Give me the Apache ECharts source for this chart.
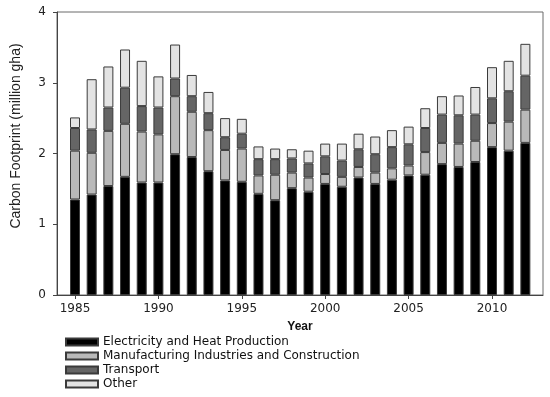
<!DOCTYPE html>
<html>
<head>
<meta charset="utf-8">
<script src="https://cdn.jsdelivr.net/npm/echarts@6/dist/echarts.min.js"></script>
<style>html,body{margin:0;padding:0;background:#fff}#c{width:550px;height:397px}</style>
</head>
<body>
<div id="c"></div>
<script>
var years = [1985,1986,1987,1988,1989,1990,1991,1992,1993,1994,1995,1996,1997,1998,1999,2000,2001,2002,2003,2004,2005,2006,2007,2008,2009,2010,2011,2012];
var electricity = [1.35,1.42,1.54,1.67,1.59,1.59,1.99,1.95,1.75,1.62,1.60,1.43,1.34,1.51,1.46,1.57,1.53,1.66,1.57,1.63,1.69,1.70,1.85,1.81,1.88,2.09,2.04,2.15];
var manufacturing = [0.69,0.59,0.78,0.75,0.72,0.68,0.82,0.64,0.58,0.43,0.47,0.26,0.36,0.22,0.20,0.14,0.14,0.15,0.16,0.16,0.14,0.32,0.30,0.33,0.30,0.34,0.41,0.47];
var transport = [0.32,0.33,0.33,0.51,0.36,0.38,0.25,0.22,0.24,0.18,0.21,0.23,0.22,0.20,0.20,0.25,0.23,0.25,0.26,0.30,0.30,0.34,0.40,0.40,0.37,0.35,0.43,0.48];
var other = [0.15,0.71,0.58,0.54,0.64,0.44,0.48,0.30,0.30,0.27,0.21,0.18,0.15,0.13,0.18,0.18,0.24,0.22,0.25,0.24,0.25,0.28,0.26,0.28,0.39,0.44,0.43,0.45];
var yearTicks = [1985,1990,1995,2000,2005,2010];
var seriesNames = ['Electricity and Heat Production','Manufacturing Industries and Construction','Transport','Other'];
var seriesColors = ['#000000','#b9b9b9','#656565','#e3e3e3'];
var seriesData = [electricity, manufacturing, transport, other];

var chart = echarts.init(document.getElementById('c'));
chart.setOption({
  animation: false,
  backgroundColor: '#fff',
  textStyle: {fontFamily: 'Liberation Sans, Arial, sans-serif'},
  grid: [
    {left: 57, right: 7, top: 12, bottom: 102, show: true, borderColor: '#6a6a6a', borderWidth: 1},
    {left: 66.66, width: 467.04, top: 12, bottom: 102}
  ],
  legend: {
    orient: 'vertical', left: 65, top: 335.5, height: 90, padding: 0,
    itemWidth: 32, itemHeight: 7, itemGap: 1,
    icon: 'rect',
    textStyle: {fontSize: 12, lineHeight: 13, color: '#111', fontFamily: 'DejaVu Sans, sans-serif'},
    data: seriesNames
  },
  graphic: [{
    type: 'text', x: 16.5, y: 136, rotation: Math.PI / 2,
    style: {text: 'Carbon Footprint (million gha)', fontSize: 14, fill: '#222',
            fontFamily: 'Liberation Sans, Arial, sans-serif', textAlign: 'center', textVerticalAlign: 'middle'}
  }],
  xAxis: [{
    gridIndex: 0, type: 'value', min: 1983.921, max: 2013.058,
    name: 'Year', nameLocation: 'middle', nameGap: 26,
    nameTextStyle: {fontWeight: 'bold', fontSize: 12, color: '#111'},
    axisLine: {show: true, lineStyle: {color: '#444'}},
    axisTick: {show: true, length: 4, customValues: yearTicks, lineStyle: {color: '#444'}},
    axisLabel: {customValues: yearTicks, fontSize: 12, color: '#222', margin: 8,
                fontFamily: 'DejaVu Sans, sans-serif', formatter: function(v){return String(v);}},
    splitLine: {show: false}
  }, {
    gridIndex: 1, type: 'category', data: years.map(String), show: false
  }],
  yAxis: [{
    gridIndex: 0, type: 'value', min: 0, max: 4, interval: 1,
    axisLine: {show: true, lineStyle: {color: '#444'}},
    axisTick: {show: true, length: 4, lineStyle: {color: '#444'}},
    axisLabel: {fontSize: 12, color: '#222', margin: 11, fontFamily: 'DejaVu Sans, sans-serif'},
    splitLine: {show: false}
  }, {
    gridIndex: 1, type: 'value', min: 0, max: 4, show: false, splitLine: {show: false}
  }],
  series: seriesNames.map(function(n, k){
    return {
      name: n, type: 'bar', stack: 'total', barWidth: 10,
      xAxisIndex: 1, yAxisIndex: 1,
      itemStyle: {color: seriesColors[k], borderColor: '#3a3a3a', borderWidth: 1},
      data: seriesData[k]
    };
  })
});
</script>
</body>
</html>
